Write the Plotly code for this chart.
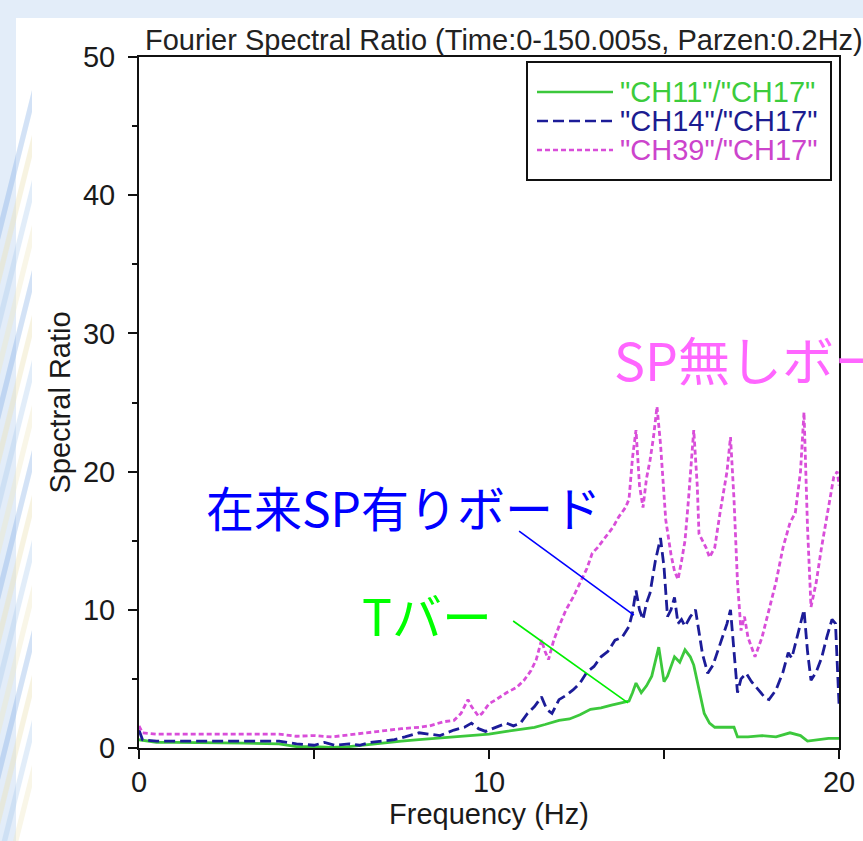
import plotly.graph_objects as go

# ---------------- data ----------------
freq_ch11 = [0.0, 0.5, 1.0, 2.0, 3.0, 4.0, 4.5, 5.0, 5.5, 6.0, 6.5, 7.0, 7.5, 8.0, 8.5,
             9.0, 9.5, 10.0, 10.5, 11.0, 11.3, 11.6, 12.0, 12.3, 12.6, 12.9, 13.2, 13.5,
             13.8, 14.0, 14.1, 14.2, 14.35, 14.5, 14.65, 14.85, 15.0, 15.1, 15.3, 15.45,
             15.6, 15.75, 15.85, 15.95, 16.05, 16.15, 16.3, 16.45, 16.7, 17.0, 17.1, 17.4,
             17.8, 18.2, 18.6, 18.9, 19.1, 19.4, 19.7, 20.0]
ratio_ch11 = [0.6, 0.4, 0.4, 0.4, 0.35, 0.3, 0.1, 0.1, 0.05, 0.1, 0.25, 0.4, 0.5, 0.6, 0.7,
              0.8, 0.9, 1.0, 1.2, 1.4, 1.5, 1.7, 2.0, 2.1, 2.4, 2.8, 2.9, 3.1,
              3.3, 3.4, 4.0, 4.7, 4.0, 4.5, 5.2, 7.3, 4.8, 5.2, 6.6, 6.2,
              7.1, 6.6, 6.0, 4.8, 3.5, 2.5, 1.8, 1.5, 1.5, 1.5, 0.8, 0.8,
              0.9, 0.8, 1.1, 0.9, 0.5, 0.6, 0.7, 0.7]

freq_ch14 = [0.0, 0.1, 0.5, 1.0, 1.5, 2.0, 2.5, 3.0, 3.5, 4.0, 4.5, 5.0, 5.3, 5.6, 6.0,
             6.3, 6.6, 7.0, 7.3, 7.6, 8.0, 8.3, 8.6, 9.0, 9.3, 9.5, 9.7, 9.9, 10.2, 10.5,
             10.7, 10.9, 11.1, 11.3, 11.5, 11.65, 11.8, 12.0, 12.2, 12.4, 12.6, 12.8, 13.0,
             13.2, 13.4, 13.6, 13.8, 14.0, 14.1, 14.2, 14.3, 14.4, 14.5, 14.6, 14.75, 14.9,
             15.0, 15.1, 15.2, 15.3, 15.4, 15.5, 15.6, 15.75, 15.9, 16.0, 16.1, 16.25, 16.4,
             16.6, 16.8, 16.9, 17.0, 17.1, 17.2, 17.35, 17.5, 17.7, 17.9, 18.0, 18.2, 18.4,
             18.55, 18.65, 18.8, 19.0, 19.1, 19.2, 19.35, 19.5, 19.65, 19.8, 19.9, 20.0]
ratio_ch14 = [1.3, 0.6, 0.5, 0.5, 0.45, 0.5, 0.5, 0.45, 0.5, 0.5, 0.3, 0.2, 0.4, 0.2, 0.3,
              0.2, 0.4, 0.5, 0.6, 0.8, 1.1, 1.0, 0.9, 1.3, 1.5, 1.8, 1.4, 1.2, 1.5, 1.8,
              1.6, 1.8, 2.5, 3.0, 3.7, 2.8, 2.5, 3.5, 3.8, 4.2, 4.7, 5.5, 5.9,
              6.6, 7.0, 7.8, 8.0, 8.8, 9.8, 11.4, 10.0, 9.3, 10.5, 11.2, 13.5, 15.2,
              13.1, 9.5, 10.0, 10.9, 9.0, 9.3, 8.8, 9.5, 10.0, 8.5, 6.8, 5.4, 6.0,
              7.5, 9.0, 10.0, 7.0, 4.0, 5.0, 5.4, 4.8, 4.2, 3.6, 3.5, 4.2, 5.5,
              6.9, 6.5, 8.0, 10.0, 7.0, 4.9, 5.5, 6.5, 8.0, 9.3, 9.0, 3.2]

freq_ch39 = [0.0, 0.1, 0.5, 1.0, 1.5, 2.0, 2.5, 3.0, 3.5, 4.0, 4.5, 5.0, 5.5, 6.0, 6.5,
             7.0, 7.5, 8.0, 8.3, 8.7, 9.0, 9.2, 9.4, 9.5, 9.7, 9.8, 10.0, 10.2, 10.5, 10.8,
             11.0, 11.2, 11.35, 11.5, 11.6, 11.7, 11.85, 12.0, 12.2, 12.4, 12.6, 12.8, 12.95,
             13.1, 13.25, 13.4, 13.55, 13.7, 13.9, 14.0, 14.1, 14.2, 14.3, 14.4, 14.5, 14.6,
             14.7, 14.8, 14.9, 15.05, 15.2, 15.3, 15.4, 15.5, 15.6, 15.7, 15.8, 15.85, 15.95,
             16.0, 16.1, 16.2, 16.3, 16.45, 16.6, 16.8, 16.9, 17.0, 17.1, 17.2, 17.3, 17.4,
             17.6, 17.8, 18.0, 18.2, 18.4, 18.6, 18.75, 18.9, 19.0, 19.1, 19.2, 19.35, 19.5,
             19.7, 19.85, 19.95, 20.0]
ratio_ch39 = [1.6, 1.1, 1.0, 1.0, 1.0, 1.05, 1.0, 1.0, 1.05, 1.0, 0.85, 0.9, 0.8, 0.95, 1.1,
              1.3, 1.4, 1.5, 1.6, 1.9, 2.0, 2.5, 3.5, 3.0, 2.3, 2.5, 3.2, 3.5, 4.0, 4.4,
              4.9, 5.6, 6.4, 7.8, 7.0, 6.4, 7.8, 8.8, 10.0, 10.9, 12.0, 13.0, 14.1,
              14.5, 15.0, 15.5, 16.0, 16.7, 17.4, 18.0, 21.0, 23.0, 19.0, 17.4, 19.5, 20.8,
              22.5, 24.7, 22.0, 16.5, 14.0, 12.8, 12.2, 13.5, 15.0, 18.0, 21.5, 23.0, 19.0,
              15.5, 15.0, 14.5, 13.8, 14.5, 17.0, 20.0, 22.5, 18.0, 12.0, 8.5, 9.5, 8.0,
              6.6, 8.0, 10.0, 12.0, 14.5, 16.3, 17.0, 20.0, 24.3, 16.0, 10.2, 12.0, 14.5,
              17.5, 19.6, 20.0, 19.0]

series_names = ['"CH11"/"CH17"', '"CH14"/"CH17"', '"CH39"/"CH17"']
x_ticks = [0, 10, 20]
y_ticks = [0, 10, 20, 30, 40, 50]

# ---------------- layout geometry ----------------
W, H = 863, 841
L, R, T, B = 139, 24, 57, 93          # plot area: x 139..839, y 57..748
PW, PH = W - L - R, H - T - B


def px_x(px):
    return (px - L) / PW


def px_y(py):
    return (H - B - py) / PH


GREEN = "#3cc83c"
BLUE = "#1c1c98"
PINK = "#d94ed9"
TXT = "Liberation Sans, Arial, sans-serif"
JP = "Noto Sans CJK JP, sans-serif"

fig = go.Figure()
fig.add_trace(go.Scatter(x=freq_ch11, y=ratio_ch11, mode="lines", name=series_names[0],
                         line=dict(color=GREEN, width=2.8), showlegend=False))
fig.add_trace(go.Scatter(x=freq_ch14, y=ratio_ch14, mode="lines", name=series_names[1],
                         line=dict(color=BLUE, width=2.8, dash="11px,5px"), showlegend=False))
fig.add_trace(go.Scatter(x=freq_ch39, y=ratio_ch39, mode="lines", name=series_names[2],
                         line=dict(color=PINK, width=2.8, dash="5px,3px"), showlegend=False))

shapes = []
# slide background panel
shapes.append(dict(type="rect", xref="paper", yref="paper", layer="below",
                   x0=px_x(16), x1=px_x(W + 5), y0=px_y(H + 5), y1=px_y(18),
                   fillcolor="white", line=dict(width=0)))
# soft decorative streaks along the left edge of the slide
streak_cols = ["rgba(110,160,225,0.30)", "rgba(236,226,180,0.40)",
               "rgba(150,190,235,0.28)", "rgba(240,232,195,0.38)"]
for i, base in enumerate(range(240, 920, 45)):
    c = streak_cols[i % 4]
    p = (f"M{px_x(0)},{px_y(base)} L{px_x(0)},{px_y(base - 22)} "
         f"L{px_x(32)},{px_y(base - 150)} L{px_x(32)},{px_y(base - 128)} Z")
    shapes.append(dict(type="path", xref="paper", yref="paper", layer="below",
                       path=p, fillcolor=c, line=dict(width=0)))

# legend box and line samples
lx0, lx1, ly0, ly1 = 527, 831, 62, 180
shapes.append(dict(type="rect", xref="paper", yref="paper",
                   x0=px_x(lx0), x1=px_x(lx1), y0=px_y(ly1), y1=px_y(ly0),
                   fillcolor="white", line=dict(color="#111", width=2)))
rows = [92, 121, 150]
legend_styles = [(GREEN, "solid"), (BLUE, "11px,5px"), (PINK, "5px,3px")]
for ry, (col, dash) in zip(rows, legend_styles):
    shapes.append(dict(type="line", xref="paper", yref="paper",
                       x0=px_x(537), x1=px_x(613), y0=px_y(ry), y1=px_y(ry),
                       line=dict(color=col, width=2.5, dash=dash)))

# leader lines from the labels to the curves
shapes.append(dict(type="line", xref="x", yref="y", x0=10.86, y0=15.70, x1=14.14, y1=9.62,
                   line=dict(color="#0000ff", width=1.6)))
shapes.append(dict(type="line", xref="x", yref="y", x0=10.69, y0=9.19, x1=13.97, y1=3.26,
                   line=dict(color="#00ee00", width=1.6)))

annotations = []
legend_text_cols = ["#3ccc3c", "#1c1c90", "#cc44cc"]
for ry, name, col in zip(rows, series_names, legend_text_cols):
    annotations.append(dict(text=name, xref="paper", yref="paper", x=px_x(618), y=px_y(ry),
                            xanchor="left", yanchor="middle", showarrow=False,
                            font=dict(family=TXT, size=29, color=col)))

annotations.append(dict(text="在来SP有りボード", xref="x", yref="y", x=1.85, y=17.5,
                        xanchor="left", yanchor="middle", showarrow=False,
                        font=dict(family=JP, size=48, color="#0000ff")))
annotations.append(dict(text="Tバー", xref="x", yref="y", x=6.3, y=9.7,
                        xanchor="left", yanchor="middle", showarrow=False,
                        font=dict(family=JP, size=50, color="#00ff00")))
annotations.append(dict(text="SP無しボード", xref="x", yref="y", x=13.5, y=28.2,
                        xanchor="left", yanchor="middle", showarrow=False,
                        font=dict(family=JP, size=52, color="#ff66ff")))

fig.update_layout(
    width=W, height=H,
    margin=dict(l=L, r=R, t=T, b=B, pad=0),
    paper_bgcolor="#e3edf9",
    plot_bgcolor="rgba(0,0,0,0)",
    title=dict(text="Fourier Spectral Ratio (Time:0-150.005s, Parzen:0.2Hz)",
               x=145 / W, xanchor="left", xref="container",
               y=1 - 40 / H, yanchor="middle", yref="container",
               font=dict(family=TXT, size=29, color="#222")),
    font=dict(family=TXT, size=29, color="#1a1a1a"),
    shapes=shapes,
    annotations=annotations,
    showlegend=False,
)
fig.update_xaxes(range=[0, 20], tickvals=x_ticks, ticks="outside", ticklen=9, tickwidth=1.5,
                 tickcolor="#111", minor=dict(dtick=5, ticks="outside", ticklen=9, tickwidth=1.5,
                                              tickcolor="#111"),
                 showline=True, linecolor="#111", linewidth=2, mirror=True,
                 showgrid=False, zeroline=False, automargin=False, ticklabelstandoff=-2,
                 title=dict(text="Frequency (Hz)", standoff=6,
                            font=dict(family=TXT, size=29, color="#1a1a1a")),
                 tickfont=dict(family=TXT, size=29, color="#1a1a1a"))
fig.update_yaxes(range=[0, 50], tickvals=y_ticks, ticks="outside", ticklen=9, tickwidth=1.5,
                 tickcolor="#111", minor=dict(dtick=5, ticks="outside", ticklen=5, tickwidth=1.5,
                                              tickcolor="#111"),
                 showline=True, linecolor="#111", linewidth=2, mirror=True,
                 showgrid=False, zeroline=False, automargin=False, ticklabelstandoff=7,
                 title=dict(text="Spectral Ratio", standoff=4,
                            font=dict(family=TXT, size=29, color="#1a1a1a")),
                 tickfont=dict(family=TXT, size=29, color="#1a1a1a"))

fig.write_html("out.html")
